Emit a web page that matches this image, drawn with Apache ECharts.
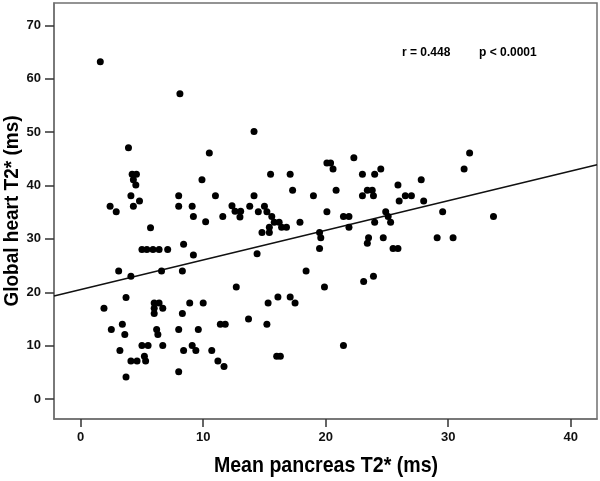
<!DOCTYPE html>
<html>
<head>
<meta charset="utf-8">
<script src="https://cdn.jsdelivr.net/npm/echarts@6/dist/echarts.min.js"></script>
<style>html,body{margin:0;padding:0;background:#fff}#c{width:600px;height:481px}</style>
</head>
<body>
<div id="c"></div>
<script>
const pancreasT2 = [
  1.6, 8.1, 3.9, 10.5, 4.2, 4.55, 4.3, 4.5, 9.9, 4.1, 4.8, 4.3, 8.0, 11.0, 8.0, 9.1, 2.4, 2.9, 9.2, 10.2, 11.6, 12.35, 12.6, 13.06, 13.0,
  5.7, 5.0, 5.4, 5.9, 6.4, 7.1, 8.4, 9.2, 3.1, 4.1, 6.6, 8.3, 12.7, 3.7, 1.9, 6.0, 6.4, 6.0, 6.7, 6.0, 8.9, 10.0, 8.3,
  2.5, 3.4, 3.6, 6.2, 6.3, 8.0, 9.6, 11.4, 11.8, 3.2, 5.0, 5.5, 6.7, 9.1, 8.4, 9.4, 10.7, 5.2, 4.1, 4.6, 5.3, 11.2, 11.7, 8.0, 3.7,
  14.15, 20.1, 20.4, 20.6, 22.3, 15.5, 17.1, 23.0, 24.0, 24.5, 27.8, 17.3, 20.85, 23.4, 23.8, 25.9, 14.15, 19.0, 23.0, 23.9, 26.5, 27.0, 26.0, 28.0,
  13.8, 15.0, 14.5, 15.2, 15.6, 20.1, 21.45, 21.9, 24.9, 25.1, 15.8, 16.2, 17.9, 25.3, 24.0, 15.4, 16.4, 16.8, 21.9, 14.8, 15.4, 19.5, 19.6,
  23.5, 23.4, 24.7, 19.5, 25.5, 25.9, 14.4, 18.4, 23.1, 23.9, 19.9, 16.1, 17.1, 15.3, 17.5, 13.7, 15.2, 16.0, 16.3, 21.45,
  31.75, 31.3, 29.55, 33.7, 29.1, 30.4
];
const heartT2 = [
  63.2, 57.2, 47.1, 46.1, 42.1, 42.1, 41.1, 40.1, 41.1, 38.1, 37.1, 36.1, 38.1, 38.1, 36.1, 36.1, 36.1, 35.1, 34.2, 33.2, 34.2, 36.2, 35.2, 35.2, 34.1,
  32.1, 28.0, 28.0, 28.0, 28.0, 28.0, 29.0, 27.0, 24.0, 23.0, 24.0, 24.0, 21.0, 19.0, 17.0, 18.0, 18.0, 17.0, 17.0, 16.0, 18.0, 18.0, 16.0,
  13.0, 14.0, 12.1, 13.0, 12.1, 13.0, 13.0, 14.0, 14.0, 9.1, 10.0, 10.0, 10.0, 10.0, 9.1, 9.1, 9.1, 8.0, 7.1, 7.1, 7.1, 7.1, 6.1, 5.1, 4.1,
  50.1, 44.2, 44.2, 43.1, 45.2, 42.1, 42.1, 42.1, 42.1, 43.1, 41.1, 39.1, 39.1, 39.1, 39.1, 40.1, 38.1, 38.1, 38.1, 38.1, 38.1, 38.1, 37.1, 37.1,
  36.1, 36.1, 35.1, 35.1, 34.2, 35.1, 34.2, 34.2, 35.1, 34.2, 33.1, 33.1, 33.1, 33.1, 33.1, 32.2, 32.2, 32.2, 32.2, 31.2, 31.2, 31.2, 30.2,
  30.2, 29.2, 30.2, 28.2, 28.2, 28.2, 27.2, 24.0, 22.0, 23.0, 21.0, 19.1, 19.1, 18.0, 18.0, 15.0, 14.0, 8.0, 8.0, 10.0,
  46.1, 43.1, 35.1, 34.2, 30.2, 30.2
];
const fitX = [-2.18, 42.15];
const fitY = [19.3, 43.9];
const xTicks = [0, 10, 20, 30, 40];
const yTicks = [0, 10, 20, 30, 40, 50, 60, 70];
const statsText = ['r = 0.448', 'p < 0.0001'];
const xTitle = 'Mean pancreas T2* (ms)';
const yTitle = 'Global heart T2* (ms)';

const FONT = "'Liberation Sans Narrow', 'Liberation Sans', Arial, sans-serif";
const axisCol = '#707070';
const chart = echarts.init(document.getElementById('c'), null, {renderer: 'canvas'});
const pts = pancreasT2.map((x, i) => [x, heartT2[i]]);
chart.setOption({
  animation: false,
  backgroundColor: '#fff',
  grid: {left: 54, right: 3, top: 3, bottom: 62, show: true, borderColor: axisCol, borderWidth: 1.5, backgroundColor: 'transparent'},
  xAxis: {
    type: 'value', min: -2.18, max: 42.15,
    axisLine: {show: true, onZero: false, lineStyle: {color: axisCol, width: 1.5}},
    axisTick: {show: true, length: 8, customValues: xTicks, lineStyle: {color: '#333', width: 1.5}},
    axisLabel: {customValues: xTicks, fontFamily: FONT, fontWeight: 'bold', fontSize: 13, color: '#111', margin: 12},
    splitLine: {show: false}
  },
  yAxis: {
    type: 'value', min: -3.75, max: 74.2,
    axisLine: {show: true, onZero: false, lineStyle: {color: axisCol, width: 1.5}},
    axisTick: {show: true, length: 9, customValues: yTicks, lineStyle: {color: '#333', width: 1.5}},
    axisLabel: {customValues: yTicks, fontFamily: FONT, fontWeight: 'bold', fontSize: 13, color: '#111', margin: 13},
    splitLine: {show: false}
  },
  graphic: [
    {type: 'text', left: 402, top: 47, style: {text: statsText[0], font: "bold 12px " + FONT, fill: '#000'}},
    {type: 'text', left: 479, top: 47, style: {text: statsText[1], font: "bold 12px " + FONT, fill: '#000'}},
    {type: 'text', x: 326, y: 466, scaleX: 0.89,
     style: {text: xTitle, font: "bold 22px " + FONT, fill: '#000', align: 'center', verticalAlign: 'middle'}},
    {type: 'text', x: 12, y: 211, rotation: Math.PI / 2, scaleX: 0.95,
     style: {text: yTitle, font: "bold 20px " + FONT, fill: '#000', align: 'center', verticalAlign: 'middle'}}
  ],
  series: [
    {type: 'scatter', data: pts, symbolSize: 7, itemStyle: {color: '#000', opacity: 1}, z: 3},
    {type: 'line', data: fitX.map((x, i) => [x, fitY[i]]), symbol: 'none', lineStyle: {color: '#111', width: 1.5}, z: 2}
  ]
});
</script>
</body>
</html>
